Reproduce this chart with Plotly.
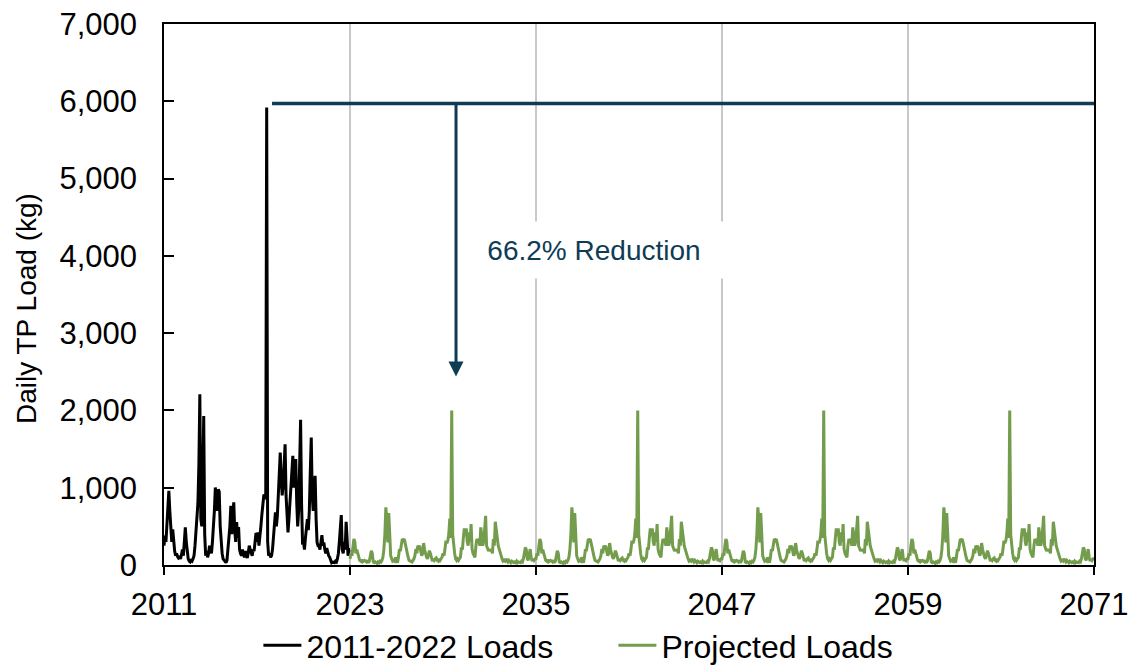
import plotly.graph_objects as go

# ---------------- data ----------------
SAMPLES_PER_YEAR = 16          # values read every 1/16 year
HIST_START_YEAR = 2011
PROJ_START_YEAR = 2023
PROJ_CYCLE_YEARS = 12
PROJ_CYCLE_REPEATS = 4         # projection repeats the 12-yr cycle to 2071

# 2011-2022 observed daily TP load (kg), read at 1/16-year steps
HIST_LOADS = (
    [250, 380, 300, 520, 780, 960, 700, 420, 300, 460, 250, 180, 120, 150, 110, 90]         # 2011
    + [100, 80, 130, 200, 120, 380, 487, 300, 150, 80, 50, 40, 60, 50, 80, 120]             # 2012
    + [250, 400, 637, 800, 1300, 2209, 600, 500, 1100, 1929, 400, 120, 180, 100, 150, 250]  # 2013
    + [200, 150, 300, 450, 700, 1003, 850, 700, 980, 950, 500, 300, 150, 80, 60, 40]        # 2014
    + [30, 60, 200, 350, 500, 766, 400, 600, 810, 450, 300, 555, 350, 490, 200, 150]        # 2015
    + [120, 200, 150, 100, 180, 130, 90, 160, 250, 200, 150, 120, 200, 180, 300, 415]       # 2016
    + [300, 422, 250, 350, 500, 650, 800, 896, 900, 850, 5920, 300, 120, 150, 100, 120]     # 2017
    + [200, 400, 550, 680, 500, 636, 900, 1200, 1456, 1100, 900, 1025, 1300, 1563, 900, 600]  # 2018
    + [422, 600, 800, 980, 1200, 1412, 1000, 1200, 1370, 810, 500, 700, 1200, 1878, 800, 293]  # 2019
    + [300, 200, 350, 500, 594, 450, 700, 1200, 1649, 900, 700, 1000, 1154, 600, 293, 250]  # 2020
    + [250, 200, 300, 387, 250, 293, 200, 150, 220, 163, 120, 100, 60, 30, 40, 30]          # 2021
    + [30, 50, 40, 80, 150, 300, 450, 646, 200, 150, 300, 200, 560, 300, 120, 200]          # 2022
    + [200]                                                                                 # 2023.0
)

# one 12-year cycle of projected daily TP load (kg), 2023-2034, 1/16-year steps
PROJ_CYCLE = (
    [80, 150, 120, 250, 336, 300, 150, 200, 140, 100, 60, 50, 70, 40, 50, 60]               # yr 1
    + [50, 40, 60, 30, 50, 120, 185, 150, 40, 30, 40, 30, 20, 40, 30, 50]                   # yr 2
    + [40, 60, 100, 206, 400, 745, 600, 293, 672, 400, 120, 80, 50, 60, 50, 100]            # yr 3
    + [60, 30, 100, 206, 180, 250, 336, 320, 336, 280, 200, 120, 100, 60, 50, 40]           # yr 4
    + [40, 60, 80, 120, 206, 150, 250, 230, 250, 180, 120, 150, 284, 200, 120, 100]         # yr 5
    + [80, 120, 185, 150, 100, 50, 80, 60, 80, 90, 60, 50, 80, 60, 80, 100]                 # yr 6
    + [150, 120, 200, 315, 280, 315, 400, 600, 350, 2000, 400, 206, 150, 80, 60, 80]        # yr 7
    + [60, 80, 100, 228, 200, 350, 474, 380, 474, 300, 250, 422, 300, 530, 206, 150]        # yr 8
    + [120, 100, 250, 336, 300, 336, 250, 487, 380, 250, 300, 450, 637, 250, 206, 180]      # yr 9
    + [206, 180, 206, 150, 336, 250, 560, 450, 380, 250, 206, 150, 120, 80, 50, 60]         # yr 10
    + [50, 80, 60, 40, 60, 50, 30, 50, 40, 30, 40, 30, 50, 30, 40, 30]                      # yr 11
    + [30, 50, 40, 80, 150, 228, 200, 80, 60, 120, 206, 100, 50, 80, 60, 80]                # yr 12
)
PROJ_END_VALUE = 80

PEAK_LEVEL = 5970              # horizontal reference line (kg)
PEAK_LINE_START = 2017.97
ARROW_YEAR = 2029.84
ARROW_TIP = 2440
REDUCTION_TEXT = "66.2% Reduction"
TEXT_YEAR = 2038.74
TEXT_LOAD = 4070

X_TICKS = [2011, 2023, 2035, 2047, 2059, 2071]
Y_TICKS = [0, 1000, 2000, 3000, 4000, 5000, 6000, 7000]

# ---------------- build ----------------
hist_x = [HIST_START_YEAR + i / SAMPLES_PER_YEAR for i in range(len(HIST_LOADS))]
proj_y = PROJ_CYCLE * PROJ_CYCLE_REPEATS + [PROJ_END_VALUE]
proj_x = [PROJ_START_YEAR + i / SAMPLES_PER_YEAR for i in range(len(proj_y))]

NAVY = "#0F3C55"
GREEN = "#739D4C"
FONT = "Liberation Sans, Arial, sans-serif"

fig = go.Figure()
fig.add_trace(go.Scatter(x=hist_x, y=HIST_LOADS, mode="lines", name="2011-2022 Loads",
                         line=dict(color="black", width=3)))
fig.add_trace(go.Scatter(x=proj_x, y=proj_y, mode="lines", name="Projected Loads",
                         line=dict(color=GREEN, width=3)))
fig.add_trace(go.Scatter(x=[PEAK_LINE_START, X_TICKS[-1]], y=[PEAK_LEVEL, PEAK_LEVEL],
                         mode="lines", showlegend=False, hoverinfo="skip",
                         line=dict(color=NAVY, width=3.5)))

fig.add_annotation(x=ARROW_YEAR, y=ARROW_TIP, ax=ARROW_YEAR, ay=PEAK_LEVEL,
                   xref="x", yref="y", axref="x", ayref="y", text="",
                   showarrow=True, arrowhead=2, arrowsize=1, arrowwidth=3,
                   arrowcolor=NAVY, standoff=0)
fig.add_annotation(x=TEXT_YEAR, y=TEXT_LOAD, xref="x", yref="y", text=REDUCTION_TEXT,
                   showarrow=False, font=dict(family=FONT, size=28, color=NAVY),
                   bgcolor="white", width=250, height=40, borderpad=8,
                   xanchor="center", yanchor="middle")
fig.add_annotation(x=(26 - 164) / 930, y=(565 - 309) / 541, xref="paper", yref="paper",
                   text="Daily TP Load (kg)", textangle=-90, showarrow=False,
                   font=dict(family=FONT, size=28, color="black"),
                   xanchor="center", yanchor="middle")

fig.update_layout(
    width=1130, height=669,
    margin=dict(l=164, r=36, t=24, b=104, autoexpand=False),
    paper_bgcolor="white", plot_bgcolor="white",
    font=dict(family=FONT, size=31, color="black"),
    showlegend=True,
    legend=dict(orientation="h", x=0.1015, xanchor="left", y=-0.098, yanchor="top",
                font=dict(family=FONT, size=32, color="black"),
                bgcolor="rgba(0,0,0,0)", itemwidth=38, entrywidth=302),
    xaxis=dict(range=[X_TICKS[0], X_TICKS[-1]], tickvals=X_TICKS,
               ticktext=[str(v) for v in X_TICKS],
               showgrid=True, gridcolor="#C8C8C8", gridwidth=1.5,
               showline=True, linecolor="black", linewidth=1.5, mirror=True,
               ticks="outside", ticklen=8, tickwidth=1.5, tickcolor="black",
               zeroline=False, ticklabelstandoff=3, automargin=False),
    yaxis=dict(range=[0, 7000], tickvals=Y_TICKS, tickformat=",",
               showgrid=False, showline=True, linecolor="black", linewidth=1.5,
               mirror=True, ticks="inside", ticklen=10, tickwidth=1.5, tickcolor="black",
               zeroline=False, ticklabelstandoff=19, automargin=False),
)

fig.write_html("out.html", config={"displayModeBar": False},
               post_script="document.body.style.margin='0';document.body.style.overflow='hidden';")
